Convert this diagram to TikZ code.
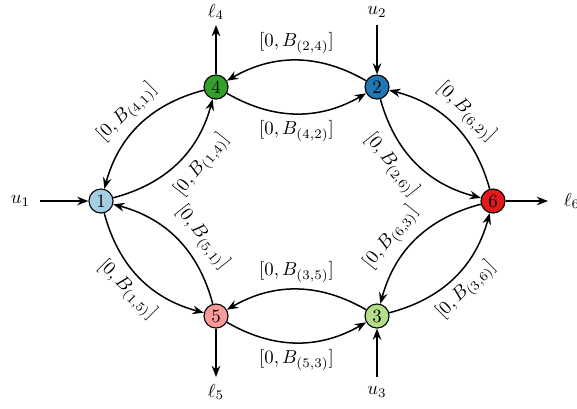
\documentclass[tikz,border=0pt]{standalone}
\usetikzlibrary{arrows.meta}
\definecolor{c1}{HTML}{A6CEE3}
\definecolor{c2}{HTML}{1F78B4}
\definecolor{c3}{HTML}{B2DF8A}
\definecolor{c4}{HTML}{33A02C}
\definecolor{c5}{HTML}{FB9A99}
\definecolor{c6}{HTML}{E31A1C}
\begin{document}
\begin{tikzpicture}[x=0.5319pt,y=-0.5319pt,
  vtx/.style={circle, draw, semithick, minimum size=12.8pt, inner sep=0pt},
  arr/.style={-{Stealth[length=6pt,width=4.6pt,inset=2pt]}, thick},
  lbl/.style={midway, sloped},
  inlbl/.style={sloped, inner sep=4.5pt}]
\useasboundingbox (0,0) rectangle (577,408);
\node[vtx, fill=c1] (n1) at (101,201) {1};
\node[vtx, fill=c2] (n2) at (377,87) {2};
\node[vtx, fill=c3] (n3) at (377,316) {3};
\node[vtx, fill=c4] (n4) at (216,87) {4};
\node[vtx, fill=c5] (n5) at (216,316) {5};
\node[vtx, fill=c6] (n6) at (493,201) {6};
% external labels
\node (u1) at (20.5,201) {$u_1$};
\node (u2) at (377,12) {$u_2$};
\node (u3) at (377,392) {$u_3$};
\node (l4) at (216,12) {$\ell_4$};
\node (l5) at (216,392) {$\ell_5$};
\node (l6) at (572,201) {$\ell_6$};
\coordinate (e1) at (40,201);
\coordinate (e2) at (377,25);
\coordinate (e3) at (377,377);
\coordinate (e4) at (216,25);
\coordinate (e5) at (216,377);
\coordinate (e6) at (548,201);
\draw[arr] (e1) -- (n1);
\draw[arr] (e2) -- (n2);
\draw[arr] (e3) -- (n3);
\draw[arr] (n4) -- (e4);
\draw[arr] (n5) -- (e5);
\draw[arr] (n6) -- (e6);
% edges
\draw[arr] (n4) to[bend right=30] node[lbl, above] {$[0,B_{(4,1)}]$} (n1);
\draw[arr] (n1) to[bend right=30] node[inlbl, pos=0.6, below] {$[0,B_{(1,4)}]$} (n4);
\draw[arr] (n2) to[bend right=30] node[lbl, above] {$[0,B_{(2,4)}]$} (n4);
\draw[arr] (n4) to[bend right=30] node[lbl, below] {$[0,B_{(4,2)}]$} (n2);
\draw[arr] (n6) to[bend right=30] node[lbl, above] {$[0,B_{(6,2)}]$} (n2);
\draw[arr] (n2) to[bend right=30] node[inlbl, pos=0.4, below] {$[0,B_{(2,6)}]$} (n6);
\draw[arr] (n1) to[bend right=30] node[lbl, below] {$[0,B_{(1,5)}]$} (n5);
\draw[arr] (n5) to[bend right=30] node[inlbl, pos=0.4, above] {$[0,B_{(5,1)}]$} (n1);
\draw[arr] (n3) to[bend right=30] node[lbl, above] {$[0,B_{(3,5)}]$} (n5);
\draw[arr] (n5) to[bend right=30] node[lbl, below] {$[0,B_{(5,3)}]$} (n3);
\draw[arr] (n6) to[bend right=30] node[inlbl, pos=0.6, above] {$[0,B_{(6,3)}]$} (n3);
\draw[arr] (n3) to[bend right=30] node[lbl, below] {$[0,B_{(3,6)}]$} (n6);
\end{tikzpicture}
\end{document}
